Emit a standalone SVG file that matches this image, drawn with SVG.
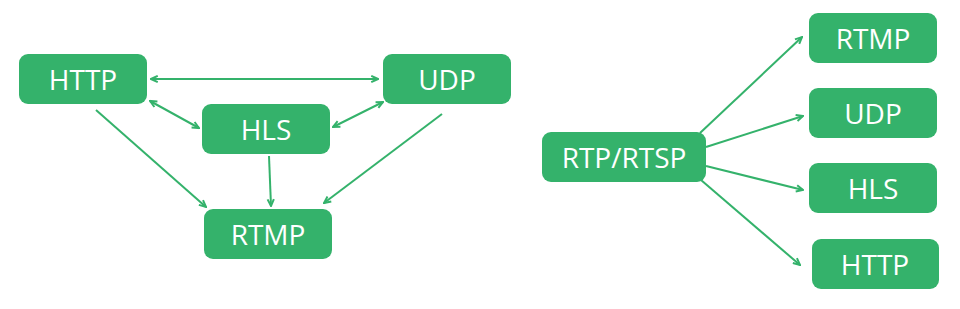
<svg xmlns="http://www.w3.org/2000/svg" width="960" height="309" viewBox="0 0 960 309">
<style>
.box{fill:#34b26b}
.lbl{font-family:"Open Sans","Noto Sans",sans-serif;font-size:28px;fill:#ffffff;text-anchor:middle;dominant-baseline:central}
.edge{stroke:#34b26b;stroke-width:2;fill:none;marker-end:url(#ah)}
.both{marker-start:url(#ahs)}
</style>
<defs>
<marker id="ah" viewBox="0 0 10 10" refX="9" refY="5" markerWidth="9" markerHeight="9" orient="auto" markerUnits="userSpaceOnUse">
<path d="M1.5,1.5 L9,5 L1.5,8.5" fill="none" stroke="#34b26b" stroke-width="2.2" stroke-linejoin="miter"/>
</marker>
<marker id="ahs" viewBox="0 0 10 10" refX="9" refY="5" markerWidth="9" markerHeight="9" orient="auto-start-reverse" markerUnits="userSpaceOnUse">
<path d="M1.5,1.5 L9,5 L1.5,8.5" fill="none" stroke="#34b26b" stroke-width="2.2" stroke-linejoin="miter"/>
</marker>
</defs>
<g id="connectors">
<line class="edge both" x1="151" y1="79" x2="378" y2="79"/>
<line class="edge both" x1="150" y1="101" x2="199" y2="128"/>
<line class="edge both" x1="333" y1="127" x2="383" y2="102"/>
<line class="edge" x1="96" y1="110" x2="206" y2="207"/>
<line class="edge" x1="269" y1="156" x2="271" y2="206"/>
<line class="edge" x1="442" y1="114" x2="324" y2="203"/>
<line class="edge" x1="700" y1="133" x2="802" y2="37"/>
<line class="edge" x1="706" y1="147" x2="803" y2="116"/>
<line class="edge" x1="706" y1="166" x2="803" y2="190"/>
<line class="edge" x1="701" y1="180" x2="800" y2="265"/>
</g>
<g id="n-http"><rect class="box" x="19" y="54" width="128" height="50" rx="9"/><text class="lbl" x="83" y="79">HTTP</text></g>
<g id="n-udp"><rect class="box" x="383" y="54" width="128" height="50" rx="9"/><text class="lbl" x="447" y="79">UDP</text></g>
<g id="n-hls"><rect class="box" x="202" y="104" width="128" height="50" rx="9"/><text class="lbl" x="266" y="129">HLS</text></g>
<g id="n-rtmp"><rect class="box" x="204" y="209" width="128" height="50" rx="9"/><text class="lbl" x="268" y="234">RTMP</text></g>
<g id="n-rtp"><rect class="box" x="542" y="132" width="164" height="50" rx="9"/><text class="lbl" x="624" y="157">RTP/RTSP</text></g>
<g id="n-rtmp2"><rect class="box" x="809" y="13" width="128" height="50" rx="9"/><text class="lbl" x="873" y="38">RTMP</text></g>
<g id="n-udp2"><rect class="box" x="809" y="88" width="128" height="50" rx="9"/><text class="lbl" x="873" y="113">UDP</text></g>
<g id="n-hls2"><rect class="box" x="809" y="163" width="128" height="50" rx="9"/><text class="lbl" x="873" y="188">HLS</text></g>
<g id="n-http2"><rect class="box" x="812" y="239" width="127" height="50" rx="9"/><text class="lbl" x="875" y="264">HTTP</text></g>
</svg>
